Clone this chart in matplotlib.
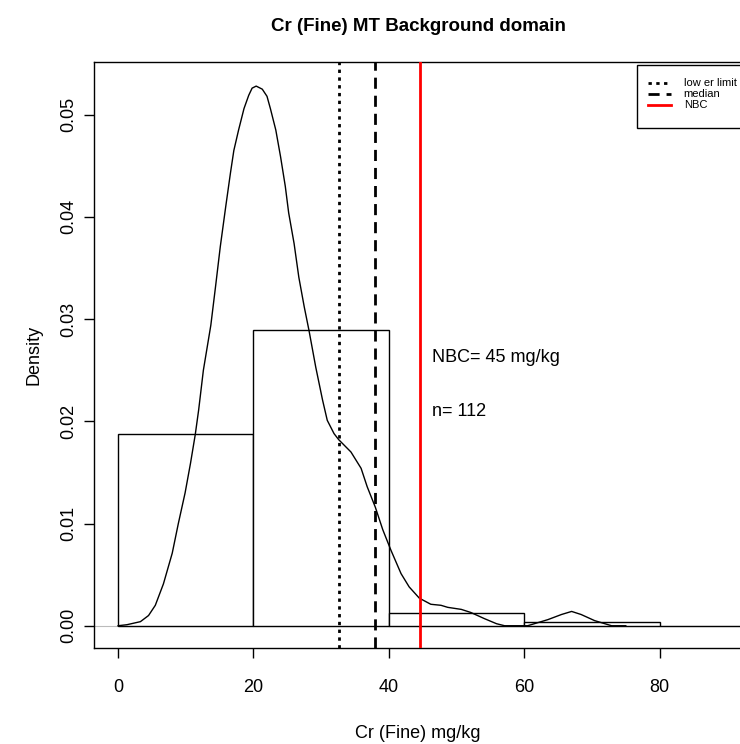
import numpy as np
import matplotlib
matplotlib.use('Agg')
import matplotlib.pyplot as plt
from matplotlib.patches import Rectangle

plt.rcParams['font.family'] = ['Liberation Sans', 'DejaVu Sans']

# histogram (density scale), bins of 20 mg/kg
bin_edges = [0, 20, 40, 60, 80, 100]
bin_density = [0.01873, 0.02893, 0.00121, 0.00040, 0.0]

# kernel density curve
kde_x = [0.0, 1.3, 3.3, 4.5, 5.5, 6.7, 8.0, 8.9, 9.9, 10.7, 11.4, 11.9, 12.6, 13.7,
         14.4, 15.1, 15.9, 16.6, 17.1, 17.8, 18.6, 19.3, 19.8, 20.4, 21.3, 22.0, 22.5,
         23.3, 24.0, 24.7, 25.2, 26.0, 26.7, 27.5, 28.2, 29.2, 30.2, 30.9, 31.9, 32.6,
         34.4, 35.9, 36.8, 38.0, 39.1, 40.3, 41.8, 43.0, 44.5, 46.2, 47.7, 48.7, 50.7,
         52.1, 54.1, 55.9, 57.1, 60.5, 63.5, 65.5, 67.0, 68.4, 70.4, 72.9, 75.0]
kde_y = [0.0, 0.0001, 0.0004, 0.0010, 0.0020, 0.0041, 0.0071, 0.0100, 0.0130, 0.0159,
         0.0187, 0.0211, 0.0250, 0.0294, 0.0332, 0.0371, 0.0410, 0.0443, 0.0465, 0.0485,
         0.0506, 0.0519, 0.0526, 0.0528, 0.0525, 0.0518, 0.0506, 0.0485, 0.0459, 0.0430,
         0.0404, 0.0374, 0.0341, 0.0312, 0.0289, 0.0253, 0.0221, 0.0201, 0.0188, 0.0182,
         0.0170, 0.0154, 0.0136, 0.0116, 0.0094, 0.0074, 0.0051, 0.0038, 0.0027, 0.0021,
         0.0020, 0.0018, 0.0016, 0.0013, 0.0007, 0.0002, 0.0, 0.0, 0.0006, 0.0011,
         0.0014, 0.0011, 0.0005, 0.0, 0.0]

lower_limit = 32.6
median = 38.0
nbc = 44.6
nbc_label = 45
n_samples = 112

legend_labels = ['low er limit', 'median', 'NBC']
legend_styles = [('black', (0, (1.2, 1.6))), ('black', (0, (4, 2.5))), ('red', '-')]

fig = plt.figure(figsize=(7.4, 7.44), dpi=100)
ax = fig.add_axes([0.127, 0.129, 0.876, 0.7877])

# bars: white with black outline
ax.bar(bin_edges[:-1], bin_density, width=np.diff(bin_edges), align='edge',
       facecolor='white', edgecolor='black', linewidth=1, zorder=2)
ax.axhline(0, color='#bbbbbb', linewidth=0.8, zorder=1)
ax.plot(kde_x, kde_y, color='black', linewidth=1, zorder=3)

ax.axvline(lower_limit, color=legend_styles[0][0], linestyle=legend_styles[0][1], linewidth=2, zorder=4)
ax.axvline(median, color=legend_styles[1][0], linestyle=legend_styles[1][1], linewidth=2, zorder=4)
ax.axvline(nbc, color=legend_styles[2][0], linestyle=legend_styles[2][1], linewidth=2, zorder=4)

ax.text(46.4, 0.0262, 'NBC= %d mg/kg' % nbc_label, fontsize=13, va='center', ha='left')
ax.text(46.4, 0.0210, 'n= %d' % n_samples, fontsize=13, va='center', ha='left')

ax.set_xlim(-3.56, 92.2)
ax.set_ylim(-0.00218, 0.05516)
ax.set_xticks([0, 20, 40, 60, 80])
ax.set_yticks([0.0, 0.01, 0.02, 0.03, 0.04, 0.05])
ax.set_yticklabels(['0.00', '0.01', '0.02', '0.03', '0.04', '0.05'], rotation=90, va='center')
ax.tick_params(direction='out', length=7, width=1, labelsize=13)
ax.tick_params(axis='x', pad=15)
ax.tick_params(axis='y', pad=5)
for s in ax.spines.values():
    s.set_linewidth(1)

ax.set_xlabel('Cr (Fine) mg/kg', fontsize=13)
ax.set_ylabel('Density', fontsize=13)
ax.xaxis.set_label_coords(0.5, -0.146)
ax.xaxis.label.set_va('center')
ax.yaxis.set_label_coords(-0.093, 0.5)
ax.yaxis.label.set_va('center')
ax.set_title('Cr (Fine) MT Background domain', fontsize=13.5, fontweight='bold', pad=22)

# legend box in the top right corner, running off the right edge like the original
ax.add_patch(Rectangle((0.8375, 0.8874), 0.2, 0.1075, transform=ax.transAxes,
                       facecolor='white', edgecolor='black', linewidth=1,
                       clip_on=False, zorder=5))
rows_y = [0.9642, 0.9454, 0.9266]
for (col, ls), lab, yy in zip(legend_styles, legend_labels, rows_y):
    ax.plot([0.854, 0.890], [yy, yy], transform=ax.transAxes, color=col,
            linestyle=ls, linewidth=2, clip_on=False, zorder=6)
    ax.text(0.9097, yy, lab, transform=ax.transAxes, fontsize=8,
            va='center', ha='left', zorder=6)

fig.savefig('out.png', dpi=100)
